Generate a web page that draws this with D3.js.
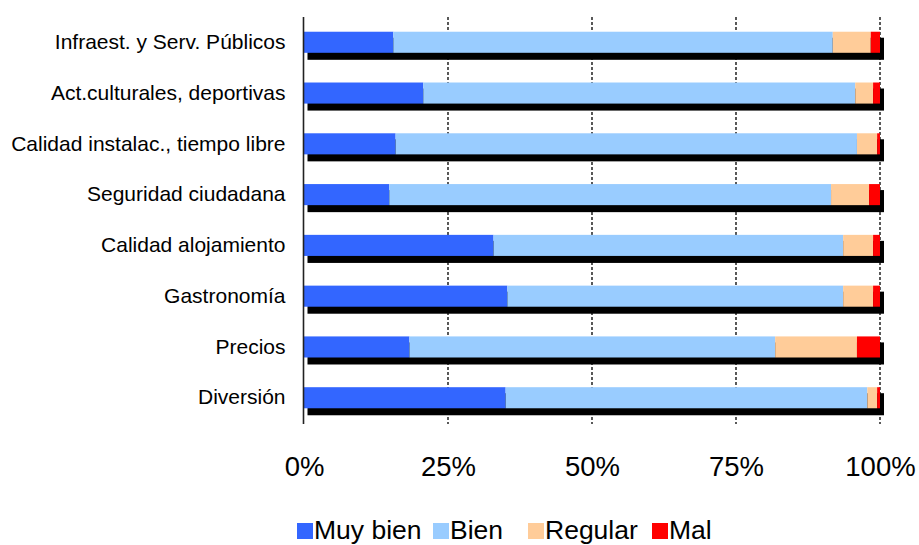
<!DOCTYPE html>
<html><head><meta charset="utf-8">
<script src="https://cdn.jsdelivr.net/npm/d3@7"></script>
<style>body{margin:0;background:#fff}svg{display:block;font-family:"Liberation Sans",Arial,sans-serif}</style>
</head><body><svg id="c" width="919" height="545"></svg>
<script>
const categories = ["Infraest. y Serv. Públicos","Act.culturales, deportivas","Calidad instalac., tiempo libre","Seguridad ciudadana","Calidad alojamiento","Gastronomía","Precios","Diversión"];
const seriesNames = ["Muy bien","Bien","Regular","Mal"];
const muyBien = [15.5,20.7,15.9,14.8,32.9,35.3,18.3,35.0];
const bien    = [76.3,75.0,80.1,76.7,60.7,58.3,63.5,62.8];
const regular = [6.6,3.1,3.5,6.6,5.2,5.2,14.2,1.7];
const mal     = [1.6,1.2,0.5,1.9,1.2,1.2,4.0,0.5];
const tickValues = [0,0.25,0.5,0.75,1];
const colors = ["#3366FF","#99CCFF","#FFCC99","#FF0000"];

const svg = d3.select("#c");
const x = d3.scaleLinear().domain([0,1]).range([304,880]);
const y = d3.scaleBand().domain(categories).range([17,423]).paddingInner(0.585).paddingOuter(0.29);

const rows = categories.map((c,i)=>{const o={cat:c};[muyBien,bien,regular,mal].forEach((a,k)=>o[seriesNames[k]]=a[i]);return o;});
const totals = rows.map(r=>seriesNames.reduce((s,k)=>s+r[k],0));
const norm = rows.map((r,i)=>{const o={cat:r.cat};seriesNames.forEach(k=>o[k]=r[k]/totals[i]);return o;});
const stack = d3.stack().keys(seriesNames)(norm);

// gridlines
svg.append("g").selectAll("line").data(tickValues.slice(1)).join("line")
  .attr("x1",d=>x(d)).attr("x2",d=>x(d)).attr("y1",17).attr("y2",424)
  .attr("stroke","#000").attr("stroke-width",1.3).attr("stroke-dasharray","3,2");

// shadows
svg.append("g").selectAll("rect").data(norm).join("rect")
  .attr("x",x(0)+3.5).attr("y",d=>y(d.cat)+6)
  .attr("width",x(1)-x(0)+0.5).attr("height",y.bandwidth()+1)
  .attr("fill","#000");

// bars
svg.append("g").selectAll("g").data(stack).join("g")
  .attr("fill",(d,i)=>colors[i])
  .selectAll("rect").data(d=>d).join("rect")
  .attr("x",d=>x(d[0])).attr("y",d=>y(d.data.cat))
  .attr("width",d=>x(d[1])-x(d[0])).attr("height",y.bandwidth());

// y axis line
svg.append("line").attr("x1",303.5).attr("x2",303.5).attr("y1",17).attr("y2",424)
  .attr("stroke","#222").attr("stroke-width",1.6);

// category labels
const yAxis = d3.axisLeft(y).tickSize(0).tickPadding(18);
const ga = svg.append("g").attr("transform","translate(303.5,0)").call(yAxis);
ga.select(".domain").remove();
ga.selectAll("text").attr("font-size",21).attr("fill","#000").attr("font-family","Liberation Sans, Arial, sans-serif");

// x tick labels
const xAxis = d3.axisBottom(x).tickValues(tickValues).tickFormat(d3.format(".0%")).tickSize(0).tickPadding(0);
const gx = svg.append("g").attr("transform","translate(0,476)").call(xAxis);
gx.select(".domain").remove();
gx.selectAll("text").attr("dy",0).attr("font-size",27.5).attr("fill","#000").attr("font-family","Liberation Sans, Arial, sans-serif");

// legend
const legX = [297,433,528,652];
const lg = svg.append("g").selectAll("g").data(seriesNames).join("g")
  .attr("transform",(d,i)=>`translate(${legX[i]},523)`);
lg.append("rect").attr("width",16).attr("height",16).attr("fill",(d,i)=>colors[i]);
lg.append("text").attr("x",17).attr("y",16).text(d=>d).attr("font-size",26.5).attr("fill","#000");
</script></body></html>
